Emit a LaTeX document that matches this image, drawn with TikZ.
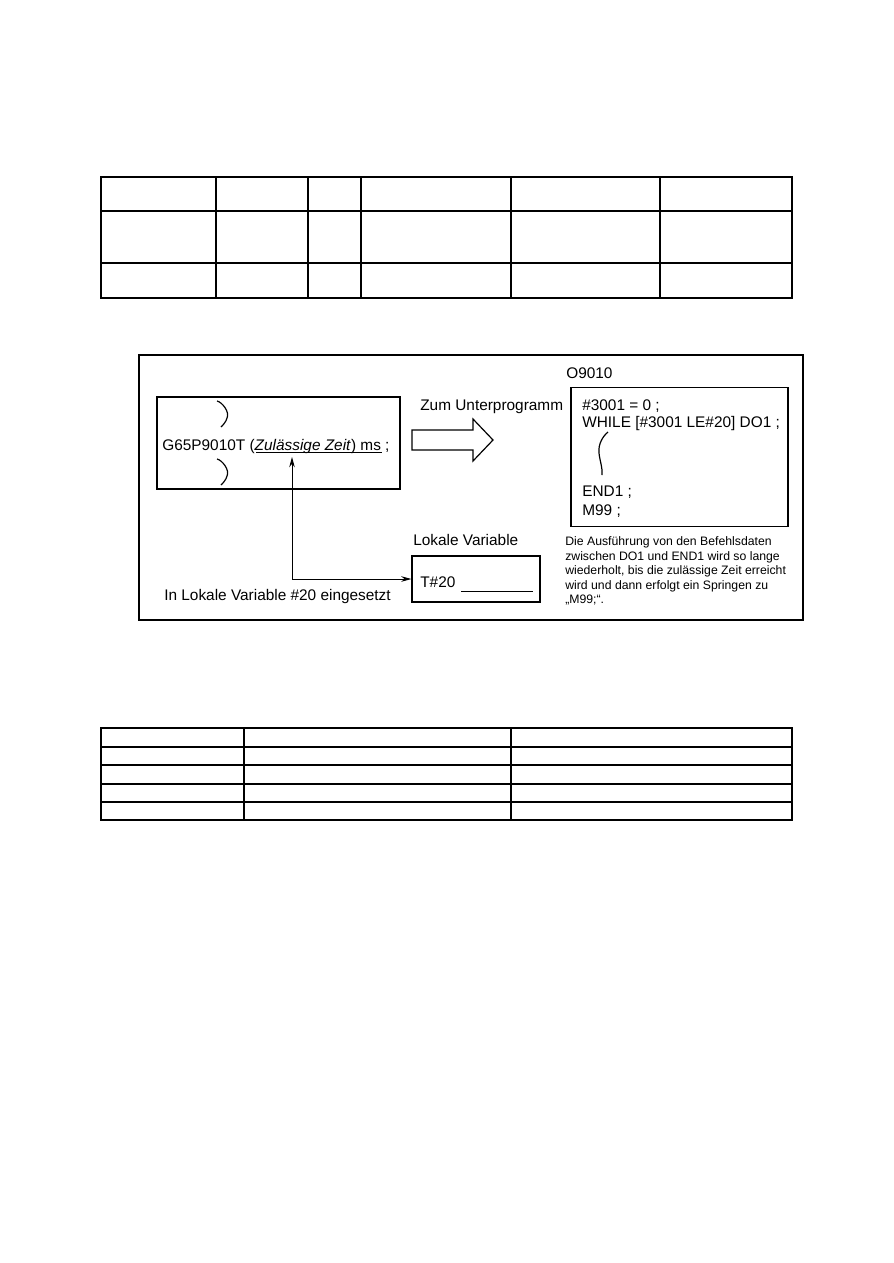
\documentclass[tikz,border=0pt]{standalone}
\usepackage{fontspec}
\setmainfont{Liberation Sans}
\usetikzlibrary{arrows.meta,fit}

\begin{document}
\begin{tikzpicture}[x=0.2352mm, y=-0.2352mm, >={Stealth[length=2.4mm,width=1.3mm]},
    grid/.style={line width=0.9pt},
    box/.style={draw, line width=0.8pt, inner sep=0pt},
    txt/.style={anchor=base west, inner sep=0pt, font=\fontsize{10.3}{12}\selectfont},
    note/.style={anchor=north west, inner sep=0pt, align=left, font=\fontsize{8.2}{9.7}\selectfont},
    squiggle/.style={line width=0.8pt}]
  \useasboundingbox (0,0) rectangle (893,1263);

  % upper table
  \draw[grid] (101,177) rectangle (792,298);
  \foreach \x in {216,308,361,511,660} \draw[grid] (\x,177) -- (\x,298);
  \foreach \y in {211,263} \draw[grid] (101,\y) -- (792,\y);

  % frame of the example
  \node[box, fit={(139,355) (803,620)}] (frame) {};

  % calling program
  \node[box, fit={(157,397) (400,489)}] (prog) {};
  \draw[squiggle] (217,401) .. controls (222,402) and (230,412) .. (227,418)
    .. controls (226,422) and (223,425) .. (221,427);
  \node[txt] (call) at (162,450) {G65P9010T (\textit{Zulässige Zeit}) ms ;};
  \draw[line width=0.6pt] (256,452.5) -- (382,452.5);
  \draw[squiggle] (217,459) .. controls (222,460) and (230,470) .. (227,476)
    .. controls (226,480) and (223,483) .. (221,485);
  \coordinate (zeit) at (292,457);

  % jump to the subprogram
  \node[txt] (zum) at (420,410) {Zum Unterprogramm};
  \draw[line width=0.8pt] (412,430) -- (473,430) -- (473,419) -- (493,440)
    -- (473,461) -- (473,450) -- (412,450) -- cycle;

  % subprogram
  \node[txt] (o9010) at (566,378) {O9010};
  \node[box, fit={(571,387.5) (788,526.5)}] (sub) {};
  \node[txt] (set) at (582,410.5) {\#3001 = 0 ;};
  \node[txt] (while) at (582,427) {WHILE [\#3001 LE\#20] DO1 ;};
  \draw[squiggle] (608,432) .. controls (603,436) and (598,444) .. (599,453)
    .. controls (600,462) and (603,469) .. (602,475);
  \node[txt] (end) at (582,496.5) {END1 ;};
  \node[txt] (m99) at (582,515.5) {M99 ;};
  \node[note] (expl) at (565,536.5) {Die Ausführung von den Befehlsdaten\\
    zwischen DO1 und END1 wird so lange\\
    wiederholt, bis die zulässige Zeit erreicht\\
    wird und dann erfolgt ein Springen zu\\
    „M99;“.};

  % local variable
  \node[txt] (lokal) at (413,545) {Lokale Variable};
  \node[box, fit={(412,556) (540,602)}] (varbox) {};
  \node[txt] (t20) at (420,587) {T\#20};
  \draw[line width=0.6pt] (461,591) -- (533,591);
  \draw[<->, line width=0.6pt] (zeit) |- (varbox.west);
  \node[txt] (einges) at (164,600) {In Lokale Variable \#20 eingesetzt};

  % lower table
  \draw[grid] (101,728) rectangle (792,820);
  \foreach \x in {244,511} \draw[grid] (\x,728) -- (\x,820);
  \foreach \y in {747,765,784,802} \draw[grid] (101,\y) -- (792,\y);
\end{tikzpicture}
\end{document}
